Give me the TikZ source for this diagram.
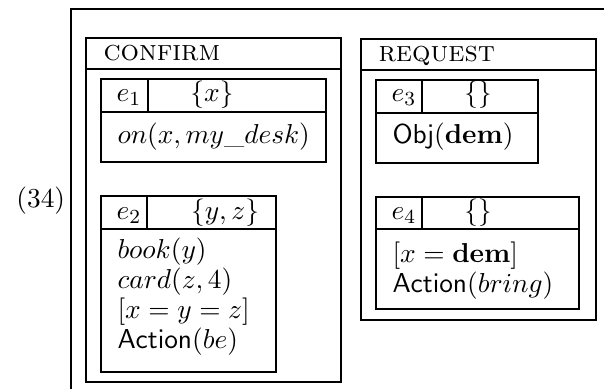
\documentclass[tikz,border=0pt]{standalone}
\begin{document}
\begin{tikzpicture}
            [x=0.4pt,y=-0.4pt,
             Box/.style={draw=black,line width=1.1pt},
             Txt/.style={inner sep=0pt,anchor=base west,font=\fontsize{11}{13}\selectfont},
             Set/.style={inner sep=0pt,anchor=base,font=\fontsize{11}{13}\selectfont},
             Head/.style={inner sep=0pt,anchor=base west,font=\fontsize{11.6}{13}\selectfont}];
            \useasboundingbox (0,0) rectangle (604,389);
            \node[Txt] (num) at (16,207){$(34)$};
            \draw[line width=1pt] (604,9) -- (71,9) -- (71,389);
            % confirm
            \draw[Box] (86,38) rectangle (341,382);
            \draw[Box] (86,69) -- (341,69);
            \node[Head] (confirm) at (103,60){\textsc{confirm}};
            \draw[Box] (101,79) rectangle (326,162);
            \draw[Box] (101,112) -- (326,112);
            \draw[Box] (148,79) -- (148,112);
            \node[Txt] (e1) at (116,101){$e_1$};
            \node[Set] (s1) at (212,101){$\{x\}$};
            \node[Txt] (b1) at (117,143){$on(x, my\_desk)$};
            \draw[Box] (101,196) rectangle (276,372);
            \draw[Box] (101,229) -- (276,229);
            \draw[Box] (147,196) -- (147,229);
            \node[Txt] (e2) at (116,219){$e_2$};
            \node[Set] (s2) at (225,219){$\{y,z\}$};
            \node[Txt] (b2a) at (117,258){$book(y)$};
            \node[Txt] (b2b) at (117,288){$card(z,4)$};
            \node[Txt] (b2c) at (117,318){$[x=y=z]$};
            \node[Txt] (b2d) at (117,348){$\mathsf{Action}(be)$};
            % request
            \draw[Box] (361,39) rectangle (596,320);
            \draw[Box] (361,70) -- (596,70);
            \node[Head] (request) at (378,61){\textsc{request}};
            \draw[Box] (376,80) rectangle (538,163);
            \draw[Box] (376,113) -- (538,113);
            \draw[Box] (422,80) -- (422,113);
            \node[Txt] (e3) at (391,101){$e_3$};
            \node[Set] (s3) at (478,101){$\{\}$};
            \node[Txt] (b3) at (392,143){$\mathsf{Obj}(\mathbf{dem})$};
            \draw[Box] (376,197) rectangle (579,309);
            \draw[Box] (376,229) -- (579,229);
            \draw[Box] (422,197) -- (422,229);
            \node[Txt] (e4) at (391,219){$e_4$};
            \node[Set] (s4) at (478,219){$\{\}$};
            \node[Txt] (b4a) at (392,262){$[x=\mathbf{dem}]$};
            \node[Txt] (b4b) at (392,292){$\mathsf{Action}(bring)$};
        \end{tikzpicture}
\end{document}
